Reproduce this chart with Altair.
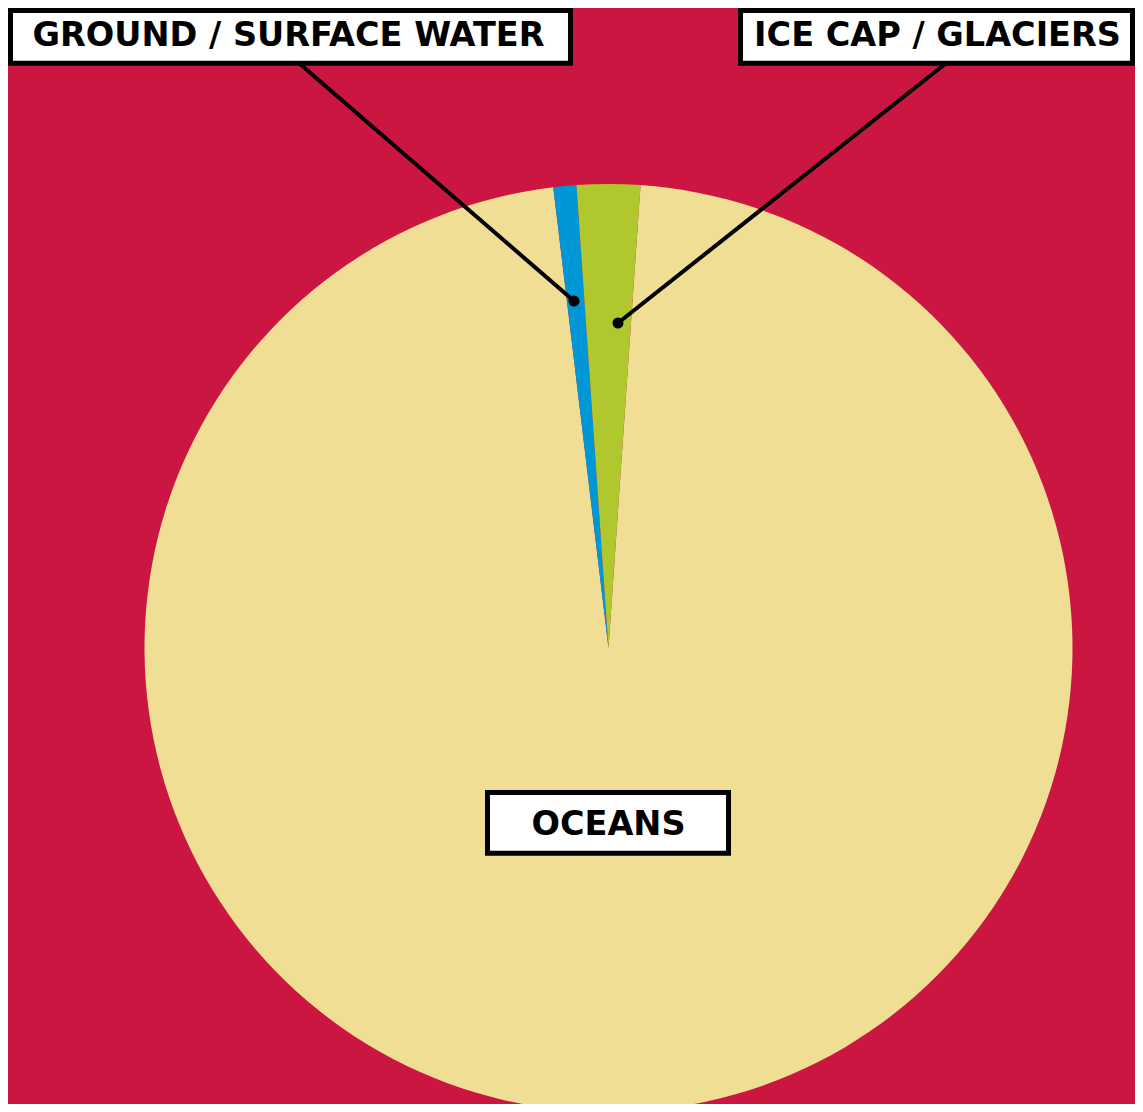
import math
import altair as alt
import pandas as pd

# ---- data ----
categories = ["Oceans", "Ground / Surface Water", "Ice Cap / Glaciers"]
labels = ["OCEANS", "GROUND / SURFACE WATER", "ICE CAP / GLACIERS"]
values = [97.0, 0.8, 2.2]
colors = ["#F0DE94", "#0097D7", "#B1C72E"]

BG = "#CC1642"
W, H = 1127, 1096
CX, CY, R = 600.5, 640, 464

df = pd.DataFrame({
    "category": categories,
    "value": values,
    "idx": list(range(len(values))),
    "label": labels,
})

total = sum(values)
# rotate so the ice-cap slice is centred on 12 o'clock
start = 2 * math.pi * (values[2] / 2) / total

pie = alt.Chart(df).mark_arc(outerRadius=R).encode(
    theta=alt.Theta("value:Q", stack=True,
                    scale=alt.Scale(range=[start, start + 2 * math.pi])),
    order=alt.Order("idx:Q"),
    color=alt.Color("category:N",
                    scale=alt.Scale(domain=categories, range=colors),
                    legend=None),
    x=alt.value(CX),
    y=alt.value(CY),
)


def one(cat):
    return df[df["category"] == cat]


def leader(cat, x1, y1, x2, y2):
    line = alt.Chart(one(cat)).mark_rule(color="black", strokeWidth=4).encode(
        x=alt.value(x1), y=alt.value(y1), x2=alt.value(x2), y2=alt.value(y2)
    )
    dot = alt.Chart(one(cat)).mark_point(
        filled=True, color="black", size=121, shape="circle", opacity=1
    ).encode(x=alt.value(x2), y=alt.value(y2))
    return [line, dot]


def box(cat, x1, x2, y1, y2, tx, ty):
    rect = alt.Chart(one(cat)).mark_rect(
        fill="white", stroke="black", strokeWidth=5
    ).encode(x=alt.value(x1), x2=alt.value(x2), y=alt.value(y1), y2=alt.value(y2))
    txt = alt.Chart(one(cat)).mark_text(
        font="DejaVu Sans", fontWeight="bold", fontSize=33.5,
        align="center", baseline="alphabetic", color="black"
    ).encode(text="label:N", x=alt.value(tx), y=alt.value(ty))
    return [rect, txt]


layers = [pie]
layers += leader("Ground / Surface Water", 292, 56, 566, 293)
layers += leader("Ice Cap / Glaciers", 937, 56, 610, 315)
layers += box("Ground / Surface Water", 2.5, 562.5, 2.5, 55.2, 280.5, 38)
layers += box("Ice Cap / Glaciers", 732.5, 1124.5, 2.5, 55.2, 929.5, 38)
layers += box("Oceans", 479.5, 720.5, 784.5, 845.2, 600.5, 827)

chart = alt.layer(*layers).properties(
    width=W,
    height=H,
    padding=0,
    autosize=alt.AutoSizeParams(type="none"),
    background=BG,
).configure_view(stroke=None)

chart.save("out.html", embed_options={"renderer": "svg", "actions": False})
